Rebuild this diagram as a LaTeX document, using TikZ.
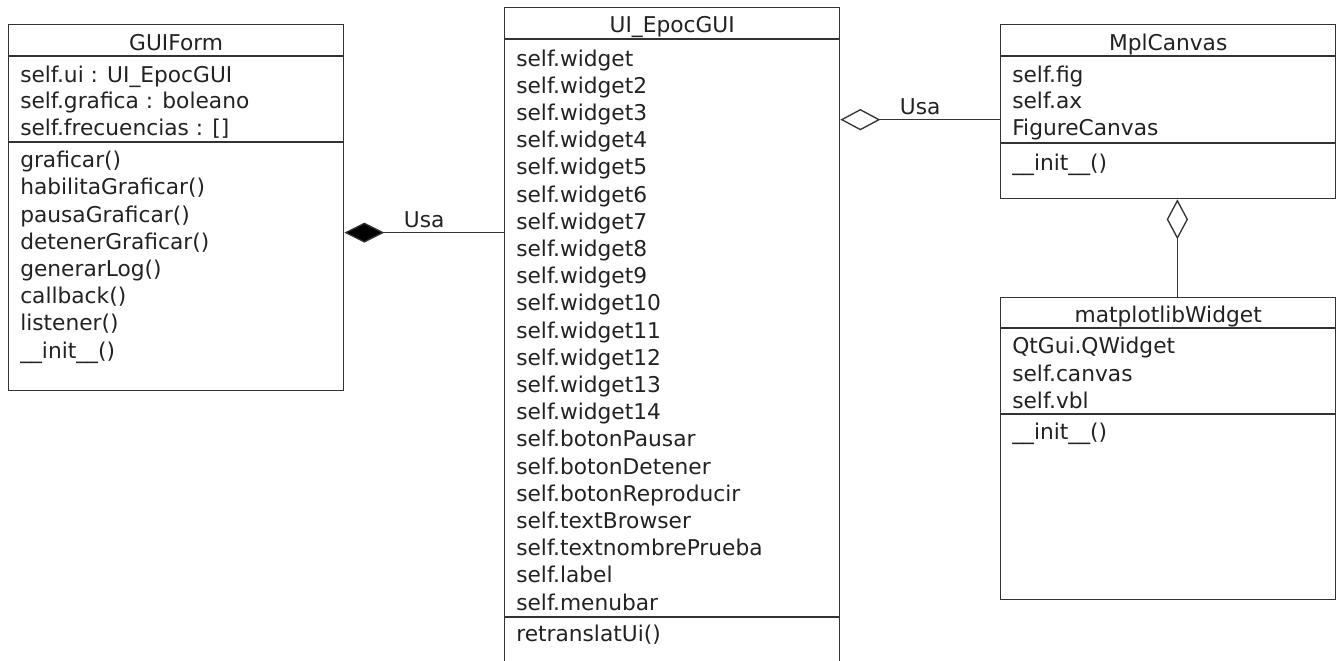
\documentclass[tikz,border=0pt]{standalone}
\usepackage{fontspec}
\setmainfont{DejaVu Sans}
\usepackage{tikz}
\usetikzlibrary{arrows.meta,calc}
\definecolor{UmlLine}{HTML}{333333}
\definecolor{UmlText}{HTML}{222222}

\begin{document}
\begin{tikzpicture}[
            x=0.75pt, y=-0.75pt,
            font=\fontsize{16.3}{19}\selectfont,
            classbox/.style={draw=UmlLine, line width=1pt, inner sep=0pt, anchor=north west, minimum width=251.25pt},
            classtitle/.style={anchor=base, inner sep=0pt, text=UmlText},
            member/.style={anchor=base west, inner sep=0pt, text=UmlText},
            divider/.style={draw=UmlLine, line width=1pt},
            compo/.style={{Diamond[length=30pt,width=15pt,fill=black]}-, line width=1pt, draw=UmlLine},
            aggreg/.style={{Diamond[open,length=30pt,width=16pt]}-, line width=1pt, draw=UmlLine},
            linklabel/.style={text=UmlText},
        ]
        \useasboundingbox (0,0) rectangle (1344,660);

        \node[classbox, minimum height=274.5pt] (guiform) at (8,24) {};
        \node[classbox, minimum height=493.5pt] (epocgui) at (504,7) {};
        \node[classbox, minimum height=130.5pt] (mplcanvas) at (1000,24) {};
        \node[classbox, minimum height=226.5pt] (mplwidget) at (1000,297) {};

        \node[classtitle] (guiform-name) at ($(guiform.north)+(0,26.5)$) {GUIForm};
        \node[classtitle] (epocgui-name) at ($(epocgui.north)+(0,26)$) {UI\_EpocGUI};
        \node[classtitle] (mplcanvas-name) at ($(mplcanvas.north)+(0,26.5)$) {MplCanvas};
        \node[classtitle] (mplwidget-name) at ($(mplwidget.north)+(0,25)$) {matplotlibWidget};

        \draw[divider] ($(guiform.north west)+(0,32)$) -- ($(guiform.north east)+(0,32)$);
        \draw[divider] ($(guiform.north west)+(0,118)$) -- ($(guiform.north east)+(0,118)$);
        \draw[divider] ($(epocgui.north west)+(0,32)$) -- ($(epocgui.north east)+(0,32)$);
        \draw[divider] ($(epocgui.north west)+(0,610)$) -- ($(epocgui.north east)+(0,610)$);
        \draw[divider] ($(mplcanvas.north west)+(0,32)$) -- ($(mplcanvas.north east)+(0,32)$);
        \draw[divider] ($(mplcanvas.north west)+(0,119)$) -- ($(mplcanvas.north east)+(0,119)$);
        \draw[divider] ($(mplwidget.north west)+(0,31)$) -- ($(mplwidget.north east)+(0,31)$);
        \draw[divider] ($(mplwidget.north west)+(0,117)$) -- ($(mplwidget.north east)+(0,117)$);

        \foreach \txt [count=\i] in {self.ui : UI\_EpocGUI, self.grafica : boleano, self.frecuencias : []}
            \node[member] (guiform-attr\i) at ($(guiform.north west)+(12,{58.5+26.3*(\i-1)})$) {\txt};
        \foreach \txt [count=\i] in {graficar(), habilitaGraficar(), pausaGraficar(), detenerGraficar(), generarLog(), callback(), listener(), \_\_init\_\_()}
            \node[member] (guiform-op\i) at ($(guiform.north west)+(12,{143.7+27.2*(\i-1)})$) {\txt};

        \foreach \txt [count=\i] in {self.widget, self.widget2, self.widget3, self.widget4, self.widget5, self.widget6, self.widget7, self.widget8, self.widget9, self.widget10, self.widget11, self.widget12, self.widget13, self.widget14, self.botonPausar, self.botonDetener, self.botonReproducir, self.textBrowser, self.textnombrePrueba, self.label, self.menubar}
            \node[member] (epocgui-attr\i) at ($(epocgui.north west)+(12,{59+27.2*(\i-1)})$) {\txt};
        \node[member] (epocgui-op1) at ($(epocgui.north west)+(12,634)$) {retranslatUi()};

        \foreach \txt [count=\i] in {self.fig, self.ax, FigureCanvas}
            \node[member] (mplcanvas-attr\i) at ($(mplcanvas.north west)+(12,{58.7+26.2*(\i-1)})$) {\txt};
        \node[member] (mplcanvas-op1) at ($(mplcanvas.north west)+(12,146)$) {\_\_init\_\_()};

        \foreach \txt [count=\i] in {QtGui.QWidget, self.canvas, self.vbl}
            \node[member] (mplwidget-attr\i) at ($(mplwidget.north west)+(12,{56.5+27.5*(\i-1)})$) {\txt};
        \node[member] (mplwidget-op1) at ($(mplwidget.north west)+(12,142)$) {\_\_init\_\_()};

        \coordinate (gf-link) at ([yshift=-18.75pt]guiform.east);
        \coordinate (mc-link) at ([yshift=-6pt]mplcanvas.west);
        \coordinate (mw-link) at ([xshift=6.9pt]mplcanvas.south);

        \draw[compo] (gf-link) -- (gf-link -| epocgui.west) node[midway, above, linklabel] (usa-left) {Usa};
        \draw[aggreg] (mc-link -| epocgui.east) -- (mc-link) node[midway, above, linklabel] (usa-right) {Usa};
        \draw[aggreg] (mw-link) -- (mw-link |- mplwidget.north);
    \end{tikzpicture}
\end{document}
